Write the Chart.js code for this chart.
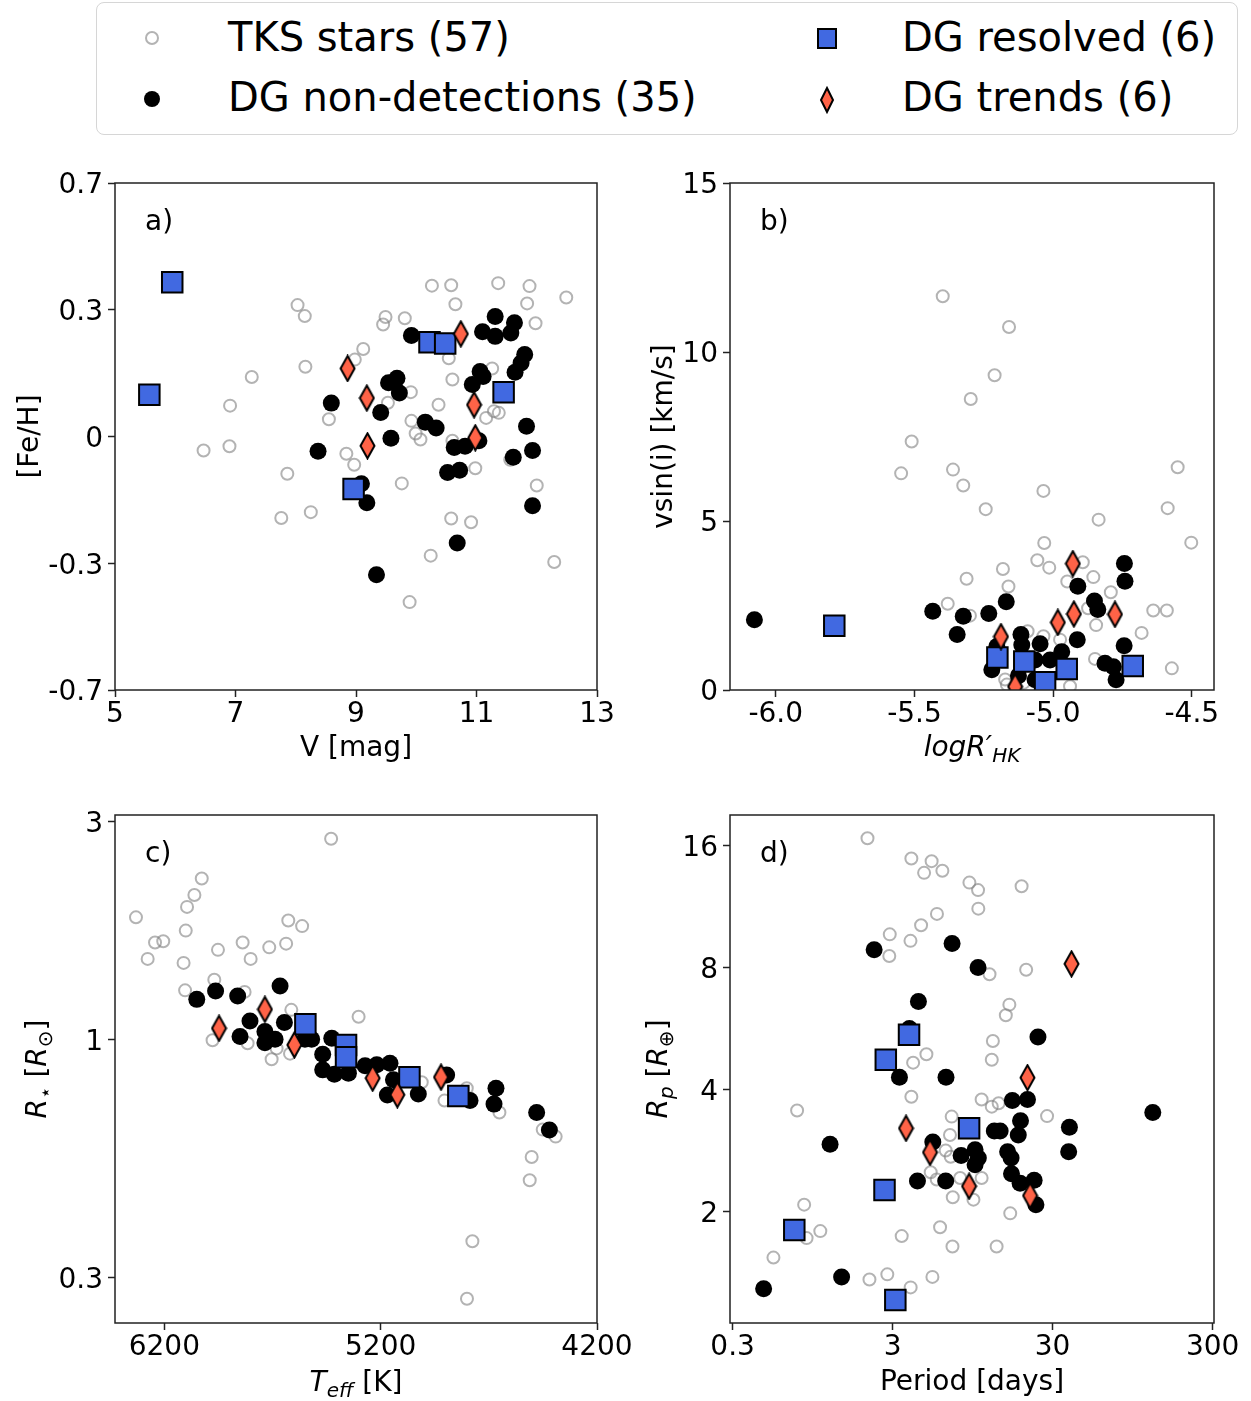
<!DOCTYPE html>
<html lang="en">
<head>
<meta charset="UTF-8">
<title>DG sample properties</title>
<script src="https://cdn.jsdelivr.net/npm/chart.js"></script>
<style>
  body { margin: 0; background: #fff; font-family: "DejaVu Sans", sans-serif; }
  #page { position: relative; width: 1251px; height: 1401px; overflow: hidden; }
  .legend-box {
    position: absolute; left: 96px; top: 2px; width: 1142px; height: 133px;
    border: 1.5px solid #d6d6d6; border-radius: 8px; box-sizing: border-box;
  }
  .legend-text { position: absolute; font-size: 40px; line-height: 40px; white-space: nowrap; color: #000; }
  .legend-mark { position: absolute; }
  canvas { position: absolute; }
</style>
</head>
<body>
<div id="page">
  <div class="legend-box"></div>
  <svg class="legend-mark" style="left:144px;top:30px" width="16" height="16"><circle cx="8" cy="8" r="6" fill="none" stroke="rgba(128,128,128,0.6)" stroke-width="2"/></svg>
  <div class="legend-text" style="left:228px;top:17px">TKS stars (57)</div>
  <svg class="legend-mark" style="left:143px;top:90px" width="18" height="18"><circle cx="9" cy="9" r="8" fill="#000"/></svg>
  <div class="legend-text" style="left:228px;top:77px">DG non-detections (35)</div>
  <svg class="legend-mark" style="left:816px;top:27px" width="22" height="23"><rect x="2" y="2" width="18" height="19" fill="#4169e1" stroke="#000" stroke-width="2"/></svg>
  <div class="legend-text" style="left:902px;top:17px">DG resolved (6)</div>
  <svg class="legend-mark" style="left:819px;top:86px" width="16" height="28"><polygon points="8,2 14,14 8,26 2,14" fill="#ff6347" stroke="#000" stroke-width="2"/></svg>
  <div class="legend-text" style="left:902px;top:77px">DG trends (6)</div>

  <canvas id="pa" width="640" height="630" style="left:0;top:140px"></canvas>
  <canvas id="pb" width="621" height="630" style="left:630px;top:140px"></canvas>
  <canvas id="pc" width="640" height="631" style="left:0;top:770px"></canvas>
  <canvas id="pd" width="621" height="631" style="left:630px;top:770px"></canvas>
</div>
<script>
// ---- a) V magnitude vs [Fe/H]
const fehTks = [[10.26,0.357],[10.58,0.358],[11.36,0.363],[11.88,0.356],[12.49,0.329],[10.65,0.313],[11.84,0.315],[8.03,0.311],[8.15,0.285],[9.49,0.283],[9.81,0.280],[9.45,0.265],[11.98,0.268],[9.12,0.207],[8.98,0.182],[10.54,0.185],[8.16,0.165],[11.26,0.161],[10.60,0.135],[7.27,0.141],[9.91,0.105],[9.53,0.080],[10.37,0.075],[6.91,0.073],[11.29,0.060],[11.37,0.056],[11.16,0.044],[8.55,0.041],[9.92,0.037],[9.99,0.007],[10.07,-0.007],[10.60,-0.010],[6.47,-0.033],[6.90,-0.023],[8.84,-0.041],[8.97,-0.067],[10.98,-0.075],[7.86,-0.088],[9.76,-0.111],[12.00,-0.116],[11.56,-0.055],[8.25,-0.179],[7.76,-0.193],[10.58,-0.194],[10.91,-0.203],[10.24,-0.282],[12.29,-0.297],[9.89,-0.392]];
const fehNonDet = [[9.92,0.239],[11.31,0.284],[11.10,0.248],[11.31,0.237],[11.63,0.269],[11.57,0.245],[11.80,0.194],[11.74,0.174],[11.64,0.152],[11.06,0.154],[11.11,0.142],[10.93,0.123],[9.68,0.138],[9.54,0.127],[9.72,0.103],[8.59,0.079],[9.41,0.057],[10.15,0.034],[10.33,0.020],[9.58,-0.004],[8.37,-0.035],[10.63,-0.026],[10.81,-0.023],[11.04,-0.010],[11.83,0.024],[11.93,-0.033],[11.61,-0.049],[10.52,-0.085],[10.72,-0.080],[9.09,-0.112],[9.18,-0.157],[11.93,-0.164],[10.68,-0.252],[9.34,-0.327]];
const fehResolved = [[5.95,0.365],[5.57,0.099],[10.22,0.223],[10.48,0.220],[11.45,0.105],[8.96,-0.124]];
const fehTrends = [[8.86,0.161],[9.18,0.091],[10.74,0.243],[10.96,0.075],[9.19,-0.022],[10.98,-0.003]];

// ---- b) log R'HK vs v sin i
const rhkTks = [[-5.398,11.65],[-5.159,10.74],[-5.211,9.31],[-5.297,8.61],[-5.510,7.35],[-5.548,6.41],[-5.361,6.52],[-5.324,6.05],[-5.035,5.89],[-5.243,5.35],[-4.551,6.59],[-4.587,5.38],[-4.836,5.04],[-4.502,4.36],[-5.032,4.35],[-5.057,3.84],[-5.014,3.62],[-5.181,3.58],[-4.893,3.78],[-4.855,3.34],[-5.312,3.29],[-5.161,3.06],[-4.949,3.21],[-4.792,2.89],[-5.380,2.55],[-4.874,2.42],[-4.639,2.35],[-4.590,2.35],[-5.300,2.20],[-4.845,1.92],[-4.681,1.69],[-5.092,1.74],[-5.035,1.59],[-4.975,1.49],[-4.849,0.92],[-4.572,0.64],[-5.173,0.31],[-5.167,0.16],[-4.939,0.11],[-5.107,0.21]];
const rhkNonDet = [[-6.077,2.08],[-5.434,2.33],[-5.324,2.18],[-5.232,2.26],[-5.169,2.61],[-5.346,1.64],[-4.743,3.74],[-4.741,3.22],[-4.911,3.07],[-4.851,2.63],[-4.839,2.38],[-4.913,1.49],[-4.744,1.31],[-5.116,1.64],[-5.047,1.37],[-5.113,1.33],[-5.203,1.29],[-5.221,0.60],[-5.065,0.89],[-5.011,0.89],[-4.969,1.13],[-5.065,0.30],[-4.813,0.79],[-4.783,0.69],[-4.773,0.30],[-5.125,0.42]];
const rhkResolved = [[-5.789,1.90],[-5.201,0.96],[-5.104,0.84],[-4.951,0.62],[-5.029,0.23],[-4.713,0.71]];
const rhkTrends = [[-5.188,1.58],[-4.929,3.74],[-4.983,2.00],[-4.925,2.25],[-4.777,2.24],[-5.137,0.10]];

// ---- c) Teff vs stellar radius
const teffTks = [[5429,2.75],[6027,2.25],[6061,2.07],[6095,1.95],[6331,1.85],[6101,1.73],[6243,1.63],[6205,1.64],[6277,1.50],[6111,1.47],[5952,1.57],[5838,1.63],[5801,1.50],[5715,1.59],[5637,1.62],[5627,1.82],[5563,1.77],[5969,1.35],[6104,1.28],[5829,1.27],[5613,1.16],[5302,1.12],[5977,0.995],[5815,0.98],[5704,0.904],[5681,0.955],[5619,0.93],[5010,0.805],[4905,0.734],[4802,0.781],[4651,0.691],[4451,0.634],[4391,0.612],[4502,0.552],[4511,0.491],[4776,0.361],[4801,0.270],[5395,0.99]];
const teffNonDet = [[6050,1.223],[5963,1.276],[5861,1.244],[5665,1.309],[5804,1.097],[5850,1.014],[5735,1.040],[5735,0.983],[5688,1.0],[5645,1.088],[5550,1.0],[5519,1.0],[5426,1.005],[5468,0.927],[5468,0.857],[5414,0.838],[5349,0.843],[5272,0.875],[5218,0.879],[5157,0.886],[5141,0.815],[5169,0.755],[5026,0.759],[4895,0.835],[4787,0.734],[4667,0.781],[4676,0.721],[4479,0.691],[4420,0.633]];
const teffResolved = [[5548,1.079],[5360,0.972],[5360,0.913],[5067,0.826],[4841,0.751]];
const teffTrends = [[5735,1.163],[5947,1.057],[5599,0.972],[5237,0.822],[5123,0.756],[4921,0.826]];

// ---- d) orbital period vs planet radius
const perTks = [[2.09,16.68],[3.93,14.86],[5.26,14.64],[4.72,13.7],[6.14,13.86],[9.06,12.96],[10.26,12.42],[19.2,12.7],[10.3,11.18],[5.68,10.85],[4.52,10.17],[2.88,9.66],[3.88,9.31],[2.86,8.54],[20.5,7.9],[12.1,7.7],[16.1,6.48],[15.3,6.1],[12.7,5.27],[12.5,4.74],[4.88,4.89],[4.03,4.66],[3.93,3.84],[0.759,3.55],[10.8,3.78],[12.5,3.63],[13.8,3.70],[27.7,3.44],[7.02,3.43],[6.85,3.09],[6.44,2.83],[6.92,2.73],[5.19,2.50],[5.66,2.40],[7.93,2.42],[10.8,2.42],[7.13,2.17],[9.6,2.14],[16.3,1.98],[0.84,2.08],[1.06,1.79],[0.87,1.72],[0.54,1.54],[3.42,1.74],[5.94,1.83],[7.10,1.64],[13.4,1.64],[2.15,1.36],[2.78,1.40],[3.89,1.30],[5.32,1.38]];
const perNonDet = [[2.30,8.85],[7.06,9.17],[10.26,8.0],[4.35,6.6],[24.3,5.39],[3.82,5.66],[3.31,4.29],[6.47,4.29],[126.8,3.51],[16.8,3.76],[20.9,3.78],[18.9,3.35],[38.2,3.23],[37.8,2.81],[1.22,2.93],[12.97,3.16],[14.1,3.16],[18.3,3.09],[5.35,2.97],[8.04,2.75],[9.83,2.84],[10.3,2.71],[9.83,2.61],[15.7,2.81],[16.5,2.71],[16.6,2.48],[18.8,2.35],[23.0,2.39],[23.6,2.08],[4.29,2.38],[6.44,2.38],[1.44,1.38],[0.469,1.29]];
const perResolved = [[3.80,5.46],[2.72,4.74],[9.02,3.21],[2.67,2.26],[0.729,1.80],[3.12,1.21]];
const perTrends = [[39.4,8.17],[20.9,4.28],[3.64,3.21],[5.14,2.80],[9.02,2.31],[21.7,2.19]];

// ---- ticks
const vmagTicks = [5, 7, 9, 11, 13];
const fehTickValues = [-0.6, -0.3, 0, 0.3, 0.6];
const fehTickLabels = ['-0.7', '-0.3', '0', '0.3', '0.7'];
const rhkTicks = [-6.0, -5.5, -5.0, -4.5];
const vsiniTicks = [0, 5, 10, 15];
const teffTicks = [6200, 5200, 4200];
const rstarTicks = [0.3, 1, 3];
const perTicks = [0.3, 3, 30, 300];
const rpTicks = [2, 4, 8, 16];

const FONT = '"DejaVu Sans", sans-serif';
Chart.defaults.font.family = FONT;
Chart.defaults.font.size = 28;
Chart.defaults.color = '#000';

// thin diamond marker
function diamondMarker() {
  const c = document.createElement('canvas');
  c.width = 17; c.height = 28;
  const g = c.getContext('2d');
  g.beginPath();
  g.moveTo(8.5, 1.5); g.lineTo(15.5, 14); g.lineTo(8.5, 26.5); g.lineTo(1.5, 14);
  g.closePath();
  g.fillStyle = '#ff6347';
  g.fill();
  g.lineWidth = 2;
  g.strokeStyle = '#000';
  g.stroke();
  return c;
}
const diamond = diamondMarker();

function toXY(arr) { return arr.map(p => ({ x: p[0], y: p[1] })); }

function sets(tks, nd, res, tr) {
  return [
    { data: toXY(tks), pointStyle: 'circle', pointRadius: 6, borderWidth: 2,
      borderColor: 'rgba(128,128,128,0.6)', backgroundColor: 'rgba(0,0,0,0)', order: 4 },
    { data: toXY(nd), pointStyle: 'circle', pointRadius: 8.5, borderWidth: 0,
      backgroundColor: '#000', borderColor: '#000', order: 3 },
    { data: toXY(res), pointStyle: 'rect', pointRadius: 14.5, borderWidth: 2,
      borderColor: '#000', backgroundColor: '#4169e1', order: 2 },
    { data: toXY(tr), pointStyle: diamond, pointRadius: 14, borderWidth: 0, order: 1 }
  ].map(d => Object.assign(d, { clip: 0, showLine: false, pointHoverRadius: d.pointRadius }));
}

function axis(o) {
  return {
    type: o.type || 'linear',
    min: o.min, max: o.max, reverse: !!o.reverse,
    grid: { display: true, drawOnChartArea: false, drawTicks: true, tickLength: 7, tickWidth: 1.5, tickColor: '#222' },
    border: { display: false },
    ticks: {
      autoSkip: false, maxRotation: 0, minRotation: 0, padding: o.pad,
      labelOffset: o.horizontal ? 0 : 3,
      font: { size: 28 }, color: '#000',
      callback: (v, i) => o.labels[i]
    },
    afterBuildTicks: s => { s.ticks = o.values.map(v => ({ value: v })); },
    afterFit: s => {
      if (o.horizontal) s.height = o.size; else s.width = o.size;
      s.paddingLeft = s.paddingRight = s.paddingTop = s.paddingBottom = 0;
    }
  };
}

// text with italic / subscript pieces, centred on (cx, cy)
function richText(ctx, segs, cx, cy, rot) {
  const fontOf = s => (s.it ? 'italic ' : '') + (s.sub ? '20px ' : '28px ') + FONT;
  const widths = segs.map(s => { ctx.font = fontOf(s); return ctx.measureText(s.t).width; });
  const total = widths.reduce((a, b) => a + b, 0);
  ctx.save();
  ctx.translate(cx, cy);
  ctx.rotate(rot);
  ctx.textAlign = 'left';
  ctx.textBaseline = 'alphabetic';
  let x = -total / 2;
  segs.forEach((s, i) => {
    ctx.font = fontOf(s);
    ctx.fillText(s.t, x, 10 + (s.sub ? 6 : 0));
    x += widths[i];
  });
  ctx.restore();
}

function decor(letter, xTitle, xGap, yTitle, yX) {
  return {
    id: 'decor',
    afterDraw(chart) {
      const { ctx, chartArea: a } = chart;
      ctx.save();
      ctx.strokeStyle = '#222';
      ctx.lineWidth = 1.5;
      ctx.strokeRect(a.left, a.top, a.right - a.left, a.bottom - a.top);
      ctx.fillStyle = '#000';
      ctx.font = '28px ' + FONT;
      ctx.textAlign = 'left';
      ctx.textBaseline = 'middle';
      ctx.fillText(letter, a.left + 30, a.top + 40);
      richText(ctx, xTitle, (a.left + a.right) / 2, a.bottom + xGap, 0);
      richText(ctx, yTitle, yX, (a.top + a.bottom) / 2, -Math.PI / 2);
      ctx.restore();
    }
  };
}

function panel(id, datasets, xAxis, yAxis, padTop, padRight, plugin) {
  return new Chart(document.getElementById(id), {
    type: 'scatter',
    data: { datasets },
    options: {
      responsive: false,
      animation: false,
      events: [],
      layout: { padding: { top: padTop, right: padRight, left: 0, bottom: 0 } },
      plugins: { legend: { display: false }, tooltip: { enabled: false } },
      scales: { x: xAxis, y: yAxis }
    },
    plugins: [plugin]
  });
}

panel('pa', sets(fehTks, fehNonDet, fehResolved, fehTrends),
  axis({ horizontal: true, size: 80, pad: 1, min: 5, max: 13, values: vmagTicks, labels: vmagTicks.map(String) }),
  axis({ size: 115, pad: 5, min: -0.6, max: 0.6, values: fehTickValues, labels: fehTickLabels }),
  43, 43,
  decor('a)', [{ t: 'V [mag]' }], 56, [{ t: '[Fe/H]' }], 28));

panel('pb', sets(rhkTks, rhkNonDet, rhkResolved, rhkTrends),
  axis({ horizontal: true, size: 80, pad: 1, min: -6.165, max: -4.42, values: rhkTicks, labels: rhkTicks.map(v => v.toFixed(1)) }),
  axis({ size: 100, pad: 5, min: 0, max: 15, values: vsiniTicks, labels: vsiniTicks.map(String) }),
  43, 37,
  decor('b)', [{ t: 'logR\u2032', it: true }, { t: 'HK', it: true, sub: true }], 56,
    [{ t: 'vsin(i) [km/s]' }], 32));

panel('pc', sets(teffTks, teffNonDet, teffResolved, teffTrends),
  axis({ horizontal: true, size: 78, pad: 1, min: 4200, max: 6428, reverse: true, values: teffTicks, labels: teffTicks.map(String) }),
  axis({ type: 'logarithmic', size: 115, pad: 5, min: 0.239, max: 3.10, values: rstarTicks, labels: rstarTicks.map(String) }),
  45, 43,
  decor('c)', [{ t: 'T', it: true }, { t: 'eff', it: true, sub: true }, { t: ' [K]' }], 58,
    [{ t: 'R', it: true }, { t: '\u22c6', sub: true }, { t: ' [' }, { t: 'R', it: true }, { t: '\u2299', sub: true }, { t: ']' }], 36));

panel('pd', sets(perTks, perNonDet, perResolved, perTrends),
  axis({ type: 'logarithmic', horizontal: true, size: 78, pad: 1, min: 0.289, max: 306, values: perTicks, labels: perTicks.map(String) }),
  axis({ type: 'logarithmic', size: 100, pad: 5, min: 1.062, max: 19.03, values: rpTicks, labels: rpTicks.map(String) }),
  45, 37,
  decor('d)', [{ t: 'Period [days]' }], 57,
    [{ t: 'R', it: true }, { t: 'p', it: true, sub: true }, { t: ' [' }, { t: 'R', it: true }, { t: '\u2295', sub: true }, { t: ']' }], 27));
</script>
</body>
</html>
